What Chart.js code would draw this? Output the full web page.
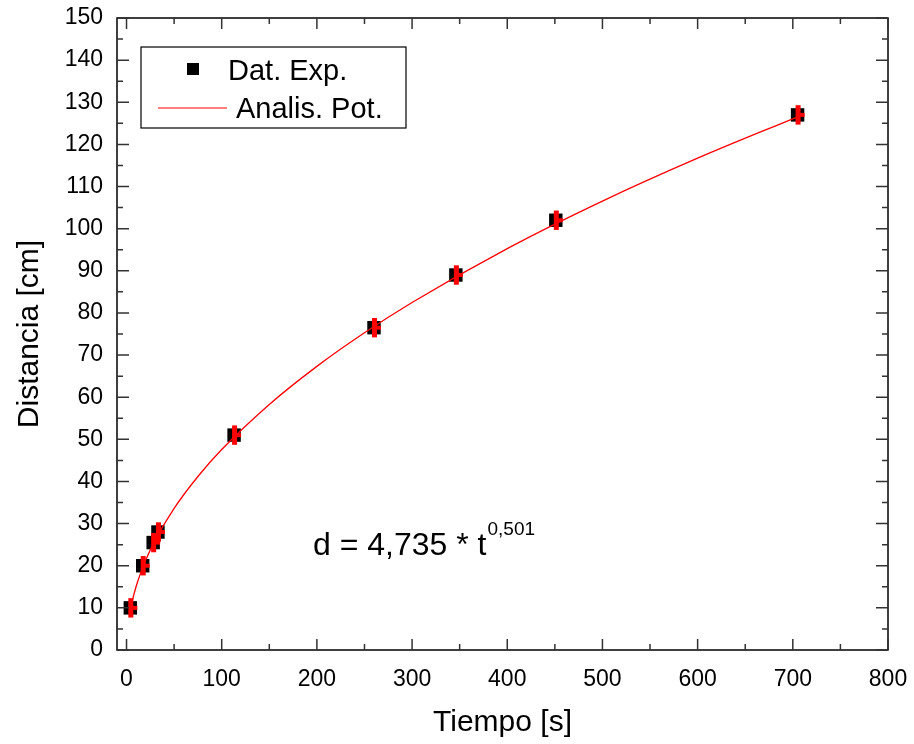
<!DOCTYPE html>
<html>
<head>
<meta charset="utf-8">
<script src="https://cdn.jsdelivr.net/npm/chart.js@4.4.1/dist/chart.umd.min.js"></script>
<style>
  body { margin: 0; background: #fff; }
  canvas { display: block; }
</style>
</head>
<body>
<canvas id="grafico" width="914" height="744"></canvas>
<script>
// datos experimentales
const tiempo = [4, 17, 28, 33, 113, 260, 346, 451, 705];
const distancia = [10, 20, 25.5, 28, 51, 76.5, 89, 102, 127];
const errorDist = [2.3, 2.3, 2.3, 2.3, 2.3, 2.3, 2.3, 2.3, 2.3];

// curva del ajuste potencial
const tAjuste = [3, 5, 10, 20, 30, 50, 75, 100, 150, 200, 250, 300, 400, 500, 600, 705];
const dAjuste = [8.21, 10.6, 15.01, 21.24, 26.02, 33.61, 41.18, 47.57, 58.28, 67.32, 75.28, 82.48, 95.27, 106.54, 116.72, 126.55];

const ticksX = [0, 100, 200, 300, 400, 500, 600, 700, 800];
const ticksY = [0, 10, 20, 30, 40, 50, 60, 70, 80, 90, 100, 110, 120, 130, 140, 150];

const fuente = "'Liberation Sans', Arial, sans-serif";

const marcoYTicks = {
  id: 'marcoYTicks',
  afterDatasetsDraw(chart) {
    const ctx = chart.ctx;
    const a = chart.chartArea;
    const sx = chart.scales.x, sy = chart.scales.y;

    // barras de error
    ctx.save();
    ctx.fillStyle = '#ff0000';
    tiempo.forEach((t, i) => {
      const px = sx.getPixelForValue(t);
      const y1 = sy.getPixelForValue(distancia[i] + errorDist[i]);
      const y2 = sy.getPixelForValue(distancia[i] - errorDist[i]);
      const py = sy.getPixelForValue(distancia[i]);
      ctx.fillRect(px - 2, y1, 5, y2 - y1);
      ctx.fillRect(px, py - 2, 7, 4);
    });
    ctx.restore();

    // marco
    ctx.save();
    ctx.strokeStyle = '#000';
    ctx.lineWidth = 1.5;
    ctx.strokeRect(a.left, a.top, a.right - a.left, a.bottom - a.top);

    // marcas hacia dentro
    ctx.strokeStyle = '#333';
    ctx.lineWidth = 1.5;
    ctx.beginPath();
    for (let i = 0; i < ticksX.length; i++) {
      const v = ticksX[i];
      let px = sx.getPixelForValue(v);
      ctx.moveTo(px, a.bottom); ctx.lineTo(px, a.bottom - 11);
      ctx.moveTo(px, a.top); ctx.lineTo(px, a.top + 11);
      if (i < ticksX.length - 1) {
        px = sx.getPixelForValue(v + 50);
        ctx.moveTo(px, a.bottom); ctx.lineTo(px, a.bottom - 6);
        ctx.moveTo(px, a.top); ctx.lineTo(px, a.top + 6);
      }
    }
    for (let i = 0; i < ticksY.length; i++) {
      const v = ticksY[i];
      let py = sy.getPixelForValue(v);
      ctx.moveTo(a.left, py); ctx.lineTo(a.left + 12, py);
      ctx.moveTo(a.right, py); ctx.lineTo(a.right - 12, py);
      if (i < ticksY.length - 1) {
        py = sy.getPixelForValue(v + 5);
        ctx.moveTo(a.left, py); ctx.lineTo(a.left + 6, py);
        ctx.moveTo(a.right, py); ctx.lineTo(a.right - 6, py);
      }
    }
    ctx.stroke();
    ctx.restore();

    // leyenda
    ctx.save();
    ctx.strokeStyle = '#000';
    ctx.lineWidth = 1.2;
    ctx.strokeRect(141, 47, 265, 81);
    ctx.fillStyle = '#000';
    ctx.fillRect(187, 63, 12, 12);
    ctx.strokeStyle = '#ff0000';
    ctx.lineWidth = 1.2;
    ctx.beginPath();
    ctx.moveTo(158, 108); ctx.lineTo(227, 108);
    ctx.stroke();
    ctx.font = '29px ' + fuente;
    ctx.textBaseline = 'alphabetic';
    ctx.fillText('Dat. Exp.', 228, 80);
    ctx.fillText('Analis. Pot.', 236, 118);

    // ecuacion
    ctx.font = '32px ' + fuente;
    ctx.fillText('d = 4,735 * t', 313, 555);
    const w = ctx.measureText('d = 4,735 * t').width;
    ctx.font = '19px ' + fuente;
    ctx.fillText('0,501', 313 + w + 1, 535);
    ctx.restore();
  }
};

new Chart(document.getElementById('grafico').getContext('2d'), {
  data: {
    datasets: [
      {
        type: 'line',
        label: 'Analis. Pot.',
        data: tAjuste.map((t, i) => ({ x: t, y: dAjuste[i] })),
        borderColor: '#ff0000',
        borderWidth: 1.3,
        pointRadius: 0,
        cubicInterpolationMode: 'monotone',
        order: 1
      },
      {
        type: 'scatter',
        label: 'Dat. Exp.',
        data: tiempo.map((t, i) => ({ x: t, y: distancia[i] })),
        pointStyle: 'rect',
        pointRadius: 9.5,
        backgroundColor: '#000',
        borderWidth: 0,
        order: 2
      }
    ]
  },
  options: {
    responsive: false,
    animation: false,
    layout: { padding: { top: 18, right: 26, left: 0, bottom: 0 } },
    plugins: {
      legend: { display: false },
      tooltip: { enabled: false }
    },
    scales: {
      x: {
        type: 'linear',
        min: -10,
        max: 800,
        afterBuildTicks: scale => { scale.ticks = ticksX.map(v => ({ value: v })); },
        afterFit: scale => { scale.height = 94; scale.paddingLeft = 0; scale.paddingRight = 0; },
        grid: { display: false, drawTicks: false },
        border: { display: false },
        ticks: { color: '#000', font: { family: fuente, size: 23 }, padding: 16, maxRotation: 0 },
        title: { display: true, text: 'Tiempo [s]', color: '#000', font: { family: fuente, size: 30 }, padding: { top: 0, bottom: 3 } }
      },
      y: {
        type: 'linear',
        min: 0,
        max: 150,
        afterBuildTicks: scale => { scale.ticks = ticksY.map(v => ({ value: v })); },
        afterFit: scale => { scale.width = 117; scale.paddingTop = 0; scale.paddingBottom = 0; },
        grid: { display: false, drawTicks: false },
        border: { display: false },
        ticks: { color: '#000', font: { family: fuente, size: 23 }, padding: 14 },
        title: { display: true, text: 'Distancia [cm]', color: '#000', font: { family: fuente, size: 30 }, padding: { top: 12, bottom: 0 } }
      }
    }
  },
  plugins: [marcoYTicks]
});
</script>
</body>
</html>
